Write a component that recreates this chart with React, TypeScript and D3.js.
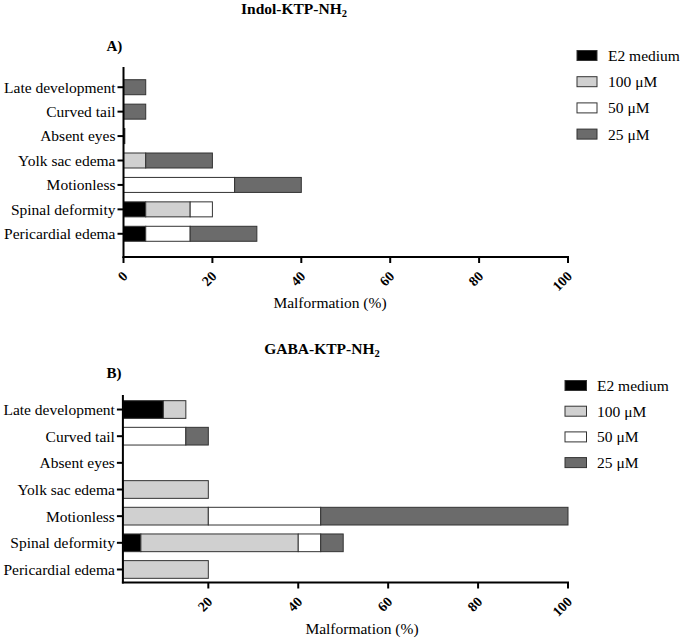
import React from "react";
import * as d3 from "d3";

const categories = [
  "Late development",
  "Curved tail",
  "Absent eyes",
  "Yolk sac edema",
  "Motionless",
  "Spinal deformity",
  "Pericardial edema",
];
const seriesNames = ["E2 medium", "100 μM", "50 μM", "25 μM"];
const seriesColors = ["#000000", "#d0d0d0", "#ffffff", "#6b6b6b"];

// Panel A: Indol-KTP-NH2
const e2A = [0, 0, 0.3, 0, 0, 5, 5];
const c100A = [0, 0, 0, 5, 0, 10, 0];
const c50A = [0, 0, 0, 0, 25, 5, 10];
const c25A = [5, 5, 0, 15, 15, 0, 15];

// Panel B: GABA-KTP-NH2
const e2B = [10, 0, 0, 0, 0, 5, 0];
const c100B = [5, 0, 0, 20, 20, 35, 20];
const c50B = [0, 15, 0, 0, 25, 5, 0];
const c25B = [0, 5, 0, 0, 55, 5, 0];

const ticksA = [0, 20, 40, 60, 80, 100];
const ticksB = [20, 40, 60, 80, 100];

const SERIF = '"Liberation Serif", "Times New Roman", serif';

type PanelProps = {
  title: string;
  label: string;
  series: number[][];
  ticks: number[];
  xRange: [number, number];
  axisStartValue: number;
  yRange: [number, number];
  padding: number;
  axisTop: number;
  axisY: number;
  titleX: number;
  titleY: number;
  labelY: number;
  xTitleX: number;
  xTitleY: number;
  legendSqX: number;
  legendSqW: number;
  legendTextX: number;
  legendY0: number;
  legendStep: number;
};

function Panel(p: PanelProps) {
  const rows = categories.map((c, i) => {
    const r: any = { cat: c };
    seriesNames.forEach((s, j) => (r[s] = p.series[j][i]));
    return r;
  });
  const stacked = d3.stack<any>().keys(seriesNames)(rows);
  const x = d3.scaleLinear().domain([0, 100]).range(p.xRange);
  const y = d3
    .scaleBand<string>()
    .domain(categories)
    .range(p.yRange)
    .paddingInner(p.padding)
    .paddingOuter(p.padding / 2);
  const axisX0 = x(p.axisStartValue);
  const serif = { fontFamily: SERIF };
  return (
    <g>
      <text
        x={p.titleX}
        y={p.titleY}
        textAnchor="middle"
        style={serif}
        fontWeight="bold"
        fontSize={15.5}
      >
        {p.title}
        <tspan fontSize={10.5} dy={3}>2</tspan>
      </text>
      <text x={106.5} y={p.labelY} style={serif} fontWeight="bold" fontSize={15}>
        {p.label}
      </text>
      {stacked.map((layer, j) =>
        layer.map((d, i) => {
          const x0 = x(Math.max(d[0], p.axisStartValue));
          const x1 = x(d[1]);
          const w = x1 - x0;
          if (d[1] - d[0] <= 0 || w <= 0) return null;
          return (
            <rect
              key={`${j}-${i}`}
              x={x0}
              y={y(categories[i])}
              width={w}
              height={y.bandwidth()}
              fill={seriesColors[j]}
              stroke="#333"
              strokeWidth={1}
            />
          );
        })
      )}
      {/* y axis */}
      <line
        x1={axisX0}
        x2={axisX0}
        y1={p.axisTop}
        y2={p.axisY + 1}
        stroke="#000"
        strokeWidth={2}
      />
      {categories.map((c) => {
        const cy = (y(c) as number) + y.bandwidth() / 2;
        return (
          <g key={c}>
            <line
              x1={axisX0 - 6}
              x2={axisX0}
              y1={cy}
              y2={cy}
              stroke="#000"
              strokeWidth={2}
            />
            <text
              x={axisX0 - 8}
              y={cy}
              dy="0.35em"
              textAnchor="end"
              style={serif}
              fontSize={15.5}
            >
              {c}
            </text>
          </g>
        );
      })}
      {/* x axis */}
      <line
        x1={axisX0 - 1}
        x2={x(100) + 1}
        y1={p.axisY}
        y2={p.axisY}
        stroke="#000"
        strokeWidth={2}
      />
      {p.ticks.map((t) => (
        <g key={t}>
          <line
            x1={x(t)}
            x2={x(t)}
            y1={p.axisY}
            y2={p.axisY + 6}
            stroke="#000"
            strokeWidth={2}
          />
          <text
            transform={`translate(${x(t) + 5},${p.axisY + 20}) rotate(-45)`}
            textAnchor="end"
            style={serif}
            fontWeight="bold"
            fontSize={14}
          >
            {t}
          </text>
        </g>
      ))}
      <text
        x={p.xTitleX}
        y={p.xTitleY}
        textAnchor="middle"
        style={serif}
        fontSize={15.5}
      >
        Malformation (%)
      </text>
      {/* legend */}
      {seriesNames.map((s, j) => {
        const cy = p.legendY0 + j * p.legendStep;
        return (
          <g key={s}>
            <rect
              x={p.legendSqX}
              y={cy - 5}
              width={p.legendSqW}
              height={10}
              fill={seriesColors[j]}
              stroke="#333"
              strokeWidth={1}
            />
            <text
              x={p.legendTextX}
              y={cy}
              dy="0.35em"
              style={serif}
              fontSize={15.5}
            >
              {s}
            </text>
          </g>
        );
      })}
    </g>
  );
}

export default function App() {
  return (
    <svg
      width={685}
      height={644}
      style={{ position: "absolute", left: 0, top: 0, background: "#fff" }}
    >
      <rect width={685} height={644} fill="#fff" />
      <Panel
        title="Indol-KTP-NH"
        label="A)"
        series={[e2A, c100A, c50A, c25A]}
        ticks={ticksA}
        xRange={[123.5, 568]}
        axisStartValue={0}
        yRange={[75, 246]}
        padding={0.386}
        axisTop={67}
        axisY={257}
        titleX={294}
        titleY={14}
        labelY={51}
        xTitleX={330}
        xTitleY={308}
        legendSqX={577}
        legendSqW={20}
        legendTextX={608}
        legendY0={55.5}
        legendStep={26.2}
      />
      <Panel
        title="GABA-KTP-NH"
        label="B)"
        series={[e2B, c100B, c50B, c25B]}
        ticks={ticksB}
        xRange={[118.4, 568]}
        axisStartValue={1}
        yRange={[396.2, 582.8]}
        padding={0.336}
        axisTop={395}
        axisY={582.5}
        titleX={322}
        titleY={354}
        labelY={378}
        xTitleX={362}
        xTitleY={634}
        legendSqX={565}
        legendSqW={21.5}
        legendTextX={597}
        legendY0={385.5}
        legendStep={25.7}
      />
    </svg>
  );
}
